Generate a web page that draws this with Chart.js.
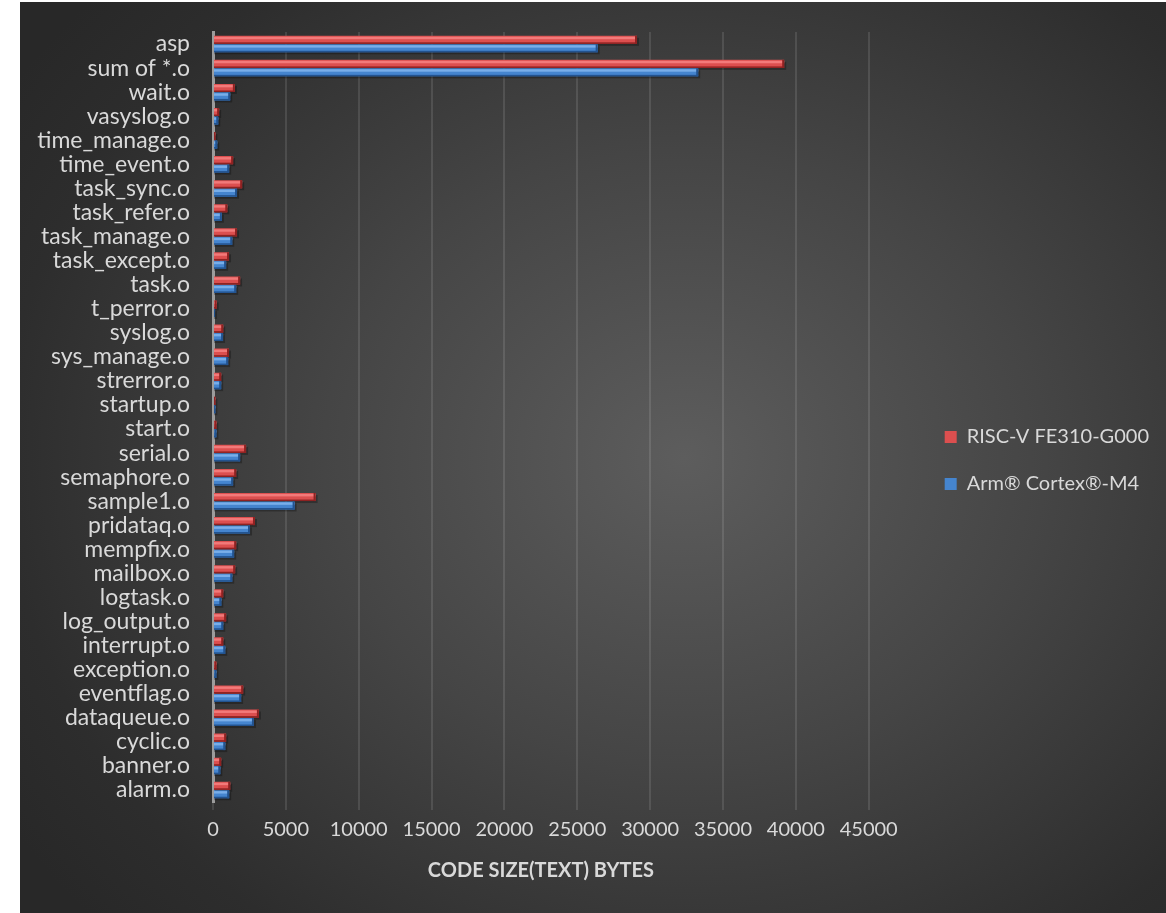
<!DOCTYPE html>
<html>
<head>
<meta charset="utf-8">
<script src="https://cdn.jsdelivr.net/npm/chart.js@4/dist/chart.umd.min.js"></script>
<style>
    body { margin: 0; background: #ffffff; }
    #frame {
        position: absolute;
        left: 20px;
        top: 2px;
        width: 1146px;
        height: 911px;
        background: radial-gradient(ellipse 70% 75% at 58% 50%, #5d5d5d 0%, #454545 45%, #2d2d2d 85%, #282828 100%);
    }
</style>
</head>
<body>
<div id="frame">
    <canvas id="code-size-chart" width="1146" height="911"></canvas>
</div>
<script>
// object files, top to bottom as in the chart
const modules = [
    'asp', 'sum of *.o', 'wait.o', 'vasyslog.o', 'time_manage.o', 'time_event.o',
    'task_sync.o', 'task_refer.o', 'task_manage.o', 'task_except.o', 'task.o',
    't_perror.o', 'syslog.o', 'sys_manage.o', 'strerror.o', 'startup.o', 'start.o',
    'serial.o', 'semaphore.o', 'sample1.o', 'pridataq.o', 'mempfix.o', 'mailbox.o',
    'logtask.o', 'log_output.o', 'interrupt.o', 'exception.o', 'eventflag.o',
    'dataqueue.o', 'cyclic.o', 'banner.o', 'alarm.o'
];

// text size in bytes
const riscvSizes = [
    29100, 39200, 1500, 420, 160, 1380,
    2000, 980, 1650, 1100, 1860,
    250, 700, 1100, 560, 160, 230,
    2270, 1590, 7040, 2880, 1590, 1520,
    700, 900, 700, 230, 2070,
    3150, 900, 560, 1180
];
const armSizes = [
    26400, 33300, 1180, 360, 290, 1110,
    1650, 610, 1320, 900, 1590,
    140, 690, 1040, 560, 160, 230,
    1860, 1380, 5600, 2540, 1450, 1320,
    570, 700, 840, 230, 1930,
    2810, 840, 500, 1110
];

const xTicks = [0, 5000, 10000, 15000, 20000, 25000, 30000, 35000, 40000, 45000];

const seriesNames = ['RISC-V FE310-G000', 'Arm\u00AE Cortex\u00AE-M4'];

const labelColor = '#d9d9d9';
const fontFamily = 'Lato, "Open Sans", sans-serif';

// body / highlight / dark edge for each series
const shades = [
    { body: '#dc4f4f', light: '#f27a7a', dark: '#8e2222' },
    { body: '#4585cf', light: '#79aee9', dark: '#23538f' }
];

// fake 3D look on top of the plain bars
const bevelBars = {
    id: 'bevelBars',
    beforeDatasetsDraw(chart) {
        const ctx = chart.ctx;
        ctx.save();
        ctx.fillStyle = 'rgba(0,0,0,0.28)';
        chart.data.datasets.forEach((ds, i) => {
            chart.getDatasetMeta(i).data.forEach(bar => {
                const { x, y, base, height } = bar.getProps(['x', 'y', 'base', 'height'], true);
                ctx.fillRect(base, y - height / 2 + 2, x - base + 2, height);
            });
        });
        ctx.restore();
    },
    afterDatasetsDraw(chart) {
        const ctx = chart.ctx;
        ctx.save();
        chart.data.datasets.forEach((ds, i) => {
            const s = shades[i];
            chart.getDatasetMeta(i).data.forEach(bar => {
                const { x, y, base, height } = bar.getProps(['x', 'y', 'base', 'height'], true);
                const top = y - height / 2;
                const w = x - base;
                if (w <= 0) return;
                ctx.fillStyle = s.light;
                ctx.fillRect(base, top + 1, w, Math.max(1, height * 0.3));
                ctx.fillStyle = s.dark;
                ctx.fillRect(base, top + height - 1.5, w, 1.5);
                ctx.fillRect(Math.max(base, x - 2), top, Math.min(2, w), height);
            });
        });
        ctx.restore();
    }
};

const chart = new Chart(
    document.getElementById('code-size-chart').getContext('2d'),
    {
        type: 'bar',
        data: {
            labels: modules,
            datasets: [{
                label: seriesNames[0],
                data: riscvSizes,
                backgroundColor: shades[0].body,
                borderWidth: 0,
                barPercentage: 0.96,
                categoryPercentage: 0.7
            }, {
                label: seriesNames[1],
                data: armSizes,
                backgroundColor: shades[1].body,
                borderWidth: 0,
                barPercentage: 0.96,
                categoryPercentage: 0.7
            }]
        },
        options: {
            indexAxis: 'y',
            responsive: false,
            animation: false,
            layout: {
                padding: { top: 30, bottom: 24, left: 0, right: 7 }
            },
            plugins: {
                tooltip: { enabled: false },
                legend: {
                    position: 'right',
                    maxWidth: 300,
                    labels: {
                        color: labelColor,
                        boxWidth: 12,
                        boxHeight: 12,
                        padding: 27,
                        font: { family: fontFamily, size: 20 }
                    }
                }
            },
            scales: {
                x: {
                    min: 0,
                    max: 45000,
                    afterBuildTicks: scale => {
                        scale.ticks = xTicks.map(v => ({ value: v }));
                    },
                    ticks: {
                        color: labelColor,
                        padding: 8,
                        font: { family: fontFamily, size: 20 },
                        callback: value => String(value)
                    },
                    grid: {
                        color: 'rgba(255,255,255,0.11)',
                        lineWidth: 2,
                        tickLength: 8
                    },
                    border: { display: false },
                    title: {
                        display: true,
                        text: 'CODE SIZE(TEXT) BYTES',
                        color: labelColor,
                        font: { family: fontFamily, size: 20, weight: 'bold' },
                        padding: { top: 4, bottom: 6 }
                    },
                    afterFit: scale => {
                        scale.height = 87;
                        scale.paddingLeft = 0;
                    }
                },
                y: {
                    ticks: {
                        color: labelColor,
                        padding: 23,
                        autoSkip: false,
                        font: { family: fontFamily, size: 23 }
                    },
                    grid: { display: false, drawTicks: false },
                    border: { display: true, color: '#9c9c9c', width: 3 },
                    afterFit: scale => {
                        scale.width = 193;
                        scale.paddingTop = 0;
                        scale.paddingBottom = 0;
                    }
                },
                // empty spacer between plot and legend
                gap: {
                    type: 'linear',
                    position: 'right',
                    display: true,
                    grid: { display: false, drawTicks: false },
                    border: { display: false },
                    ticks: { display: false },
                    afterFit: scale => {
                        scale.width = 49;
                    }
                }
            }
        },
        plugins: [bevelBars]
    }
);
</script>
</body>
</html>
